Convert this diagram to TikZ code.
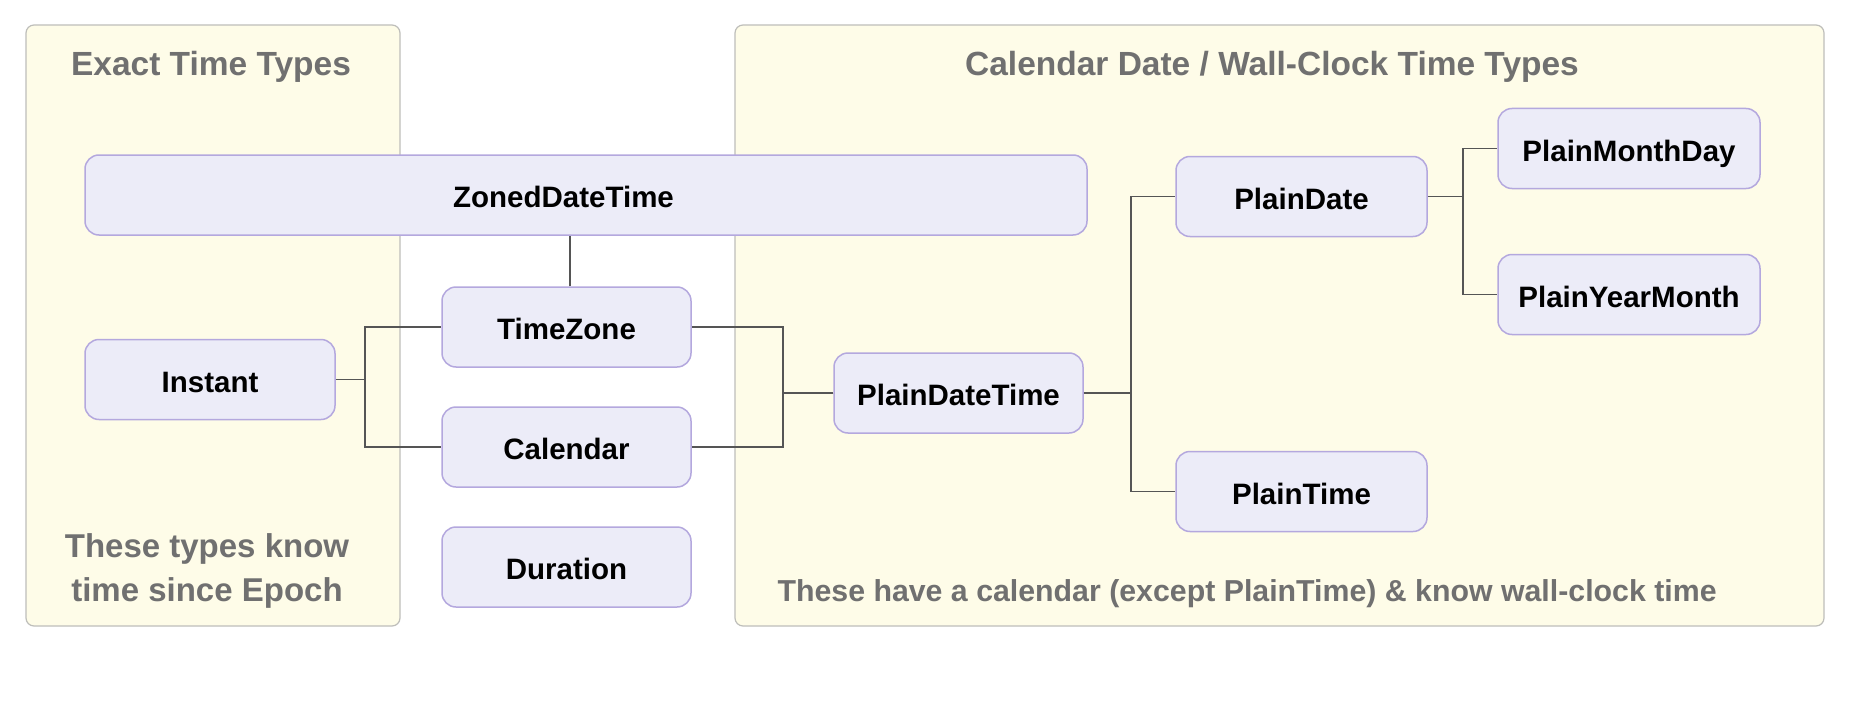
\documentclass[tikz,border=0pt]{standalone}
\usepackage{fontspec}
\setmainfont{Liberation Sans}
\usepackage{tikz}
\definecolor{panelfill}{RGB}{254,252,232}
\definecolor{panelline}{RGB}{190,190,186}
\definecolor{typefill}{RGB}{236,236,248}
\definecolor{typeline}{RGB}{180,168,222}
\definecolor{wire}{RGB}{85,85,85}
\definecolor{caption}{RGB}{112,112,112}
\newcommand{\drawwire}{\draw[wire, line width=1.6pt]}
\newcommand{\drawpanel}[4]{
    \draw[panelline, fill=panelfill, line width=1.2pt, rounded corners=8pt] (#1,#2) rectangle (#3,#4);
}
\tikzset{
  typebox/.style={draw=typeline, fill=typefill, line width=1.5pt, rounded corners=14pt,
    minimum height=80pt, minimum width=250pt, inner sep=0pt, text height=25pt, text depth=0pt,
    font=\fontsize{29.5}{35}\selectfont\bfseries, text=black},
  paneltitle/.style={font=\fontsize{33.5}{40}\selectfont\bfseries, text=caption},
  panelnote/.style={font=\fontsize{33}{44}\selectfont\bfseries, text=caption, align=center}
}

\begin{document}
\begin{tikzpicture}[x=1pt, y=-1pt]
\useasboundingbox[fill=white] (0,0) rectangle (1852,706);
\drawpanel{26}{25}{400}{626}
    \drawpanel{735}{25}{1824}{626}
\node[paneltitle] (exacttitle) at (211,67) {Exact Time Types};
    \node[paneltitle] (walltitle) at (1272,67) {Calendar Date / Wall-Clock Time Types};
    \node[panelnote] (exactnote) at (207,571) {These types know\\time since Epoch};
    \node[panelnote, anchor=west, font=\fontsize{30.3}{36}\selectfont\bfseries] (wallnote) at (774,594) {These have a calendar (except PlainTime) \& know wall-clock time};
% the types
\node[typebox, minimum width=1002pt] (zdt) at (586,195) {\hspace*{-45pt}ZonedDateTime};
    \node[typebox, minimum width=249pt] (tz) at (566.5,327) {TimeZone};
    \node[typebox, minimum width=249pt] (cal) at (566.5,447) {Calendar};
    \node[typebox, minimum width=249pt] (dur) at (566.5,567) {Duration};
    \node[typebox] (inst) at (210,379.5) {Instant};
    \node[typebox, minimum width=249pt] (pdt) at (958.5,393) {PlainDateTime};
    \node[typebox, minimum width=251pt] (pd) at (1301.5,196.5) {PlainDate};
    \node[typebox, minimum width=251pt] (pt) at (1301.5,491.5) {PlainTime};
    \node[typebox, minimum width=262pt] (pmd) at (1629,148.5) {PlainMonthDay};
    \node[typebox, minimum width=262pt] (pym) at (1629,294.5) {PlainYearMonth};
% links
\drawwire ([xshift=3.5pt]tz.north) -- ([xshift=3.5pt]tz.north |- zdt.south);
    \drawwire (inst.east) -- ++(29,0) |- (tz.west);
    \drawwire (inst.east) -- ++(29,0) |- (cal.west);
    \drawwire (pdt.west) -- ++(-50,0) |- (tz.east);
    \drawwire (pdt.west) -- ++(-50,0) |- (cal.east);
    \drawwire (pdt.east) -- ++(47,0) |- (pd.west);
    \drawwire (pdt.east) -- ++(47,0) |- (pt.west);
    \drawwire (pd.east) -- ++(35,0) |- (pmd.west);
    \drawwire (pd.east) -- ++(35,0) |- (pym.west);
\end{tikzpicture}
\end{document}
